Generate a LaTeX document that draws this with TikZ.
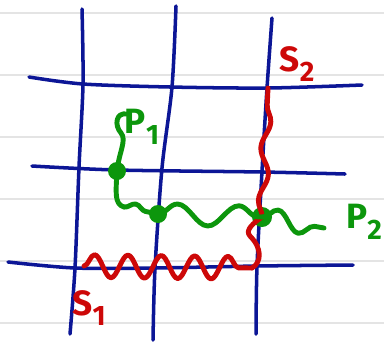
\documentclass[tikz,border=0pt]{standalone}
\usepackage{fontspec}
\setsansfont{Fira Sans}
\usetikzlibrary{decorations.pathmorphing}

\definecolor{gridblue}{RGB}{12,22,150}
\definecolor{wavered}{RGB}{205,8,8}
\definecolor{wavegreen}{RGB}{12,150,12}
\definecolor{ruledgray}{RGB}{228,228,228}

\newcommand{\lowsub}[1]{\raisebox{-0.3em}{\fontsize{16}{16}\selectfont #1}}

\tikzset{
  ruled/.style={draw=ruledgray, line width=1.1pt},
  gridline/.style={draw=gridblue, line width=2pt, line cap=round},
  redline/.style={draw=wavered, line width=2.8pt, line cap=round, line join=round},
  greenline/.style={draw=wavegreen, line width=2.8pt, line cap=round, line join=round},
  wiggle/.style 2 args={decorate, decoration={snake, amplitude=#1, segment length=#2}},
  dot/.style={circle, fill=wavegreen, inner sep=0pt, minimum size=0.36cm},
  lbl/.style={font=\sffamily\bfseries\fontsize{20}{22}\selectfont, inner sep=0pt}
}

\begin{document}
\begin{tikzpicture}[x=0.02cm, y=-0.02cm]
  \useasboundingbox (0,0) rectangle (384,342);

  % ruled paper
  \foreach \yy in {13,75,137,199,261,323}
    \draw[ruled] (0,\yy) -- (384,\yy);

  % grid
  \draw[gridline] plot[smooth] coordinates {(82,9) (83,84) (79,167) (75,268) (70,334)};
  \draw[gridline] plot[smooth] coordinates {(176,6) (172,87) (162,168) (155,268) (153,340)};
  \draw[gridline] plot[smooth] coordinates {(272,18) (267,88) (262,171) (257,266) (256,334)};
  \draw[gridline] plot[smooth] coordinates {(29,77) (83,84) (170,87) (268,88) (362,85)};
  \draw[gridline] plot[smooth] coordinates {(32,166) (117,170) (262,172) (345,174)};
  \draw[gridline] plot[smooth] coordinates {(8,262) (75,268) (155,268) (257,266) (353,265)};

  % points
  \node[dot] (p1dot) at (117,171) {};
  \node[dot] (mid) at (158,214) {};
  \node[dot, minimum size=0.4cm] (p2dot) at (262,217) {};

  \coordinate (s1end) at (84,266);
  \coordinate (turn) at (252,268);
  \coordinate (s2top) at (268,88);
  \coordinate (p1start) at (127,114);
  \coordinate (bend) at (124,207);
  \coordinate (p2end) at (324,228);

  % labels
  \node[lbl, text=wavered] (s2) at (297,64) {S\lowsub{2}};
  \node[lbl, text=wavered] (s1) at (89,308) {S\lowsub{1}};
  \node[lbl, text=wavegreen] (p1) at (142,127) {P\lowsub{1}};
  \node[lbl, text=wavegreen] (p2) at (364,222) {P\lowsub{2}};

  % red path
  \draw[redline, wiggle={6.5pt}{19pt}] (s1end) -- (turn);
  \draw[redline] (turn) .. controls (262,262) and (262,248) .. (250,236)
    .. controls (244,230) and (255,222) .. (p2dot.center);
  \draw[redline, wiggle={2.5pt}{30pt}] (p2dot.center) -- (s2top);

  % green path
  \draw[greenline] (p1start) .. controls (116,112) and (114,125) .. (121,133)
    .. controls (127,140) and (119,152) .. (p1dot.center);
  \draw[greenline] (p1dot.center) .. controls (116,192) and (114,204) .. (bend);
  \draw[greenline, wiggle={3pt}{20pt}] (bend) -- (mid.center);
  \draw[greenline, wiggle={6pt}{35pt}] (mid.center) -- (p2dot.center);
  \draw[greenline, wiggle={5.5pt}{27pt}] (p2dot.center) -- (p2end);
\end{tikzpicture}
\end{document}
